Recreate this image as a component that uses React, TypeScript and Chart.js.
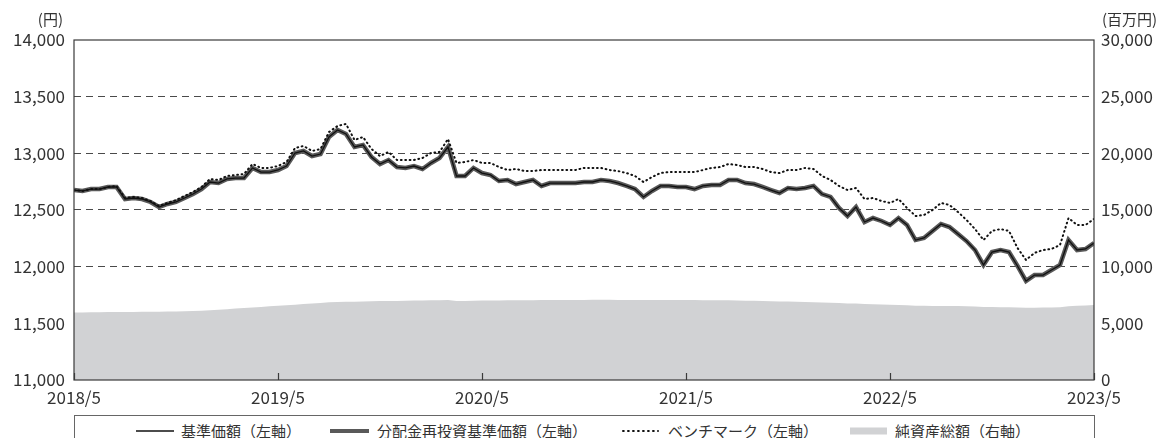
import React, { useEffect, useRef } from "react";
import { Chart, registerables } from "chart.js";

Chart.register(...registerables);

// x axis: semi-monthly steps, 2018/5 .. 2023/5 (24 steps per year)
const xTickLabels = ["2018/5", "2019/5", "2020/5", "2021/5", "2022/5", "2023/5"];
const stepsPerYear = 24;

// 基準価額 (円)
const fundNav = [
  12676, 12668, 12685, 12685, 12703, 12703, 12597, 12606, 12597, 12571,
  12526, 12553, 12571, 12606, 12641, 12685, 12747, 12738, 12774, 12782,
  12782, 12871, 12835, 12835, 12853, 12888, 13003, 13021, 12976, 12994,
  13144, 13206, 13171, 13056, 13074, 12968, 12906, 12941, 12879, 12871,
  12888, 12862, 12915, 12959, 13056, 12800, 12800, 12871, 12826, 12809,
  12756, 12765, 12729, 12747, 12765, 12712, 12738, 12738, 12738, 12738,
  12747, 12747, 12765, 12756, 12738, 12712, 12685, 12615, 12668, 12712,
  12712, 12703, 12703, 12685, 12712, 12721, 12721, 12765, 12765, 12738,
  12729, 12703, 12676, 12650, 12694, 12685, 12694, 12712, 12641, 12615,
  12518, 12447, 12526, 12394, 12429, 12403, 12368, 12429, 12368, 12235,
  12253, 12315, 12376, 12350, 12288, 12226, 12147, 12015, 12129, 12147,
  12129, 12006, 11874, 11926, 11926, 11971, 12015, 12235, 12147, 12156,
  12209,
];

// 分配金再投資基準価額 (円) — identical to 基準価額 in the picture
const reinvestNav = [
  12676, 12668, 12685, 12685, 12703, 12703, 12597, 12606, 12597, 12571,
  12526, 12553, 12571, 12606, 12641, 12685, 12747, 12738, 12774, 12782,
  12782, 12871, 12835, 12835, 12853, 12888, 13003, 13021, 12976, 12994,
  13144, 13206, 13171, 13056, 13074, 12968, 12906, 12941, 12879, 12871,
  12888, 12862, 12915, 12959, 13056, 12800, 12800, 12871, 12826, 12809,
  12756, 12765, 12729, 12747, 12765, 12712, 12738, 12738, 12738, 12738,
  12747, 12747, 12765, 12756, 12738, 12712, 12685, 12615, 12668, 12712,
  12712, 12703, 12703, 12685, 12712, 12721, 12721, 12765, 12765, 12738,
  12729, 12703, 12676, 12650, 12694, 12685, 12694, 12712, 12641, 12615,
  12518, 12447, 12526, 12394, 12429, 12403, 12368, 12429, 12368, 12235,
  12253, 12315, 12376, 12350, 12288, 12226, 12147, 12015, 12129, 12147,
  12129, 12006, 11874, 11926, 11926, 11971, 12015, 12235, 12147, 12156,
  12209,
];

// ベンチマーク (円)
const benchmark = [
  12676, 12668, 12685, 12685, 12703, 12712, 12606, 12615, 12606, 12579,
  12535, 12562, 12588, 12624, 12659, 12703, 12774, 12765, 12800, 12809,
  12818, 12906, 12871, 12871, 12888, 12924, 13047, 13065, 13021, 13038,
  13188, 13241, 13259, 13118, 13144, 13038, 12976, 13012, 12941, 12941,
  12941, 12959, 13003, 13012, 13126, 12915, 12924, 12941, 12915, 12915,
  12879, 12853, 12862, 12844, 12844, 12853, 12853, 12853, 12853, 12853,
  12871, 12871, 12871, 12853, 12844, 12826, 12800, 12747, 12791, 12826,
  12835, 12835, 12835, 12835, 12853, 12871, 12879, 12906, 12897, 12879,
  12879, 12862, 12835, 12826, 12853, 12853, 12871, 12862, 12800, 12765,
  12712, 12676, 12694, 12597, 12606, 12579, 12562, 12597, 12518, 12447,
  12456, 12500, 12562, 12544, 12482, 12412, 12332, 12235, 12315, 12332,
  12315, 12165, 12059, 12121, 12147, 12156, 12191, 12429, 12368, 12368,
  12421,
];

// 純資産総額 (百万円)
const netAssets = [
  5950, 5960, 5970, 5980, 5990, 6000, 6000, 6010, 6020, 6020,
  6030, 6040, 6050, 6060, 6080, 6100, 6150, 6200, 6250, 6300,
  6350, 6400, 6450, 6500, 6550, 6600, 6650, 6700, 6750, 6800,
  6850, 6880, 6900, 6900, 6920, 6950, 6960, 6970, 6980, 7000,
  7010, 7020, 7030, 7040, 7060, 6980, 6970, 7000, 7010, 7020,
  7020, 7030, 7030, 7040, 7040, 7050, 7050, 7050, 7060, 7060,
  7060, 7070, 7070, 7070, 7060, 7060, 7060, 7050, 7060, 7060,
  7060, 7050, 7050, 7050, 7040, 7040, 7030, 7030, 7020, 7000,
  6990, 6970, 6950, 6930, 6920, 6900, 6880, 6860, 6840, 6820,
  6790, 6760, 6740, 6700, 6680, 6660, 6640, 6620, 6600, 6560,
  6550, 6540, 6540, 6530, 6520, 6500, 6480, 6450, 6440, 6430,
  6420, 6400, 6380, 6380, 6390, 6400, 6420, 6500, 6550, 6580,
  6620,
];

const FONT = "'Noto Sans CJK JP', 'Noto Sans', sans-serif";
const TEXT = "#333333";

const toPoints = (arr: number[]) => arr.map((v, i) => ({ x: i, y: v }));
const fmt = (v: number) => Number(v).toLocaleString("en-US");

const framePlugin = {
  id: "frameAndTitles",
  afterDatasetsDraw(chart: any) {
    const { ctx, chartArea: a, scales } = chart;
    ctx.save();
    ctx.strokeStyle = "#3a3a3a";
    ctx.lineWidth = 1.2;
    ctx.setLineDash([]);
    ctx.strokeRect(a.left, a.top, a.right - a.left, a.bottom - a.top);
    const xs = scales.x;
    xs.ticks.forEach((t: any) => {
      const px = Math.round(xs.getPixelForValue(t.value)) + 0.5;
      ctx.beginPath();
      ctx.moveTo(px, a.bottom);
      ctx.lineTo(px, a.bottom - 7);
      ctx.stroke();
    });
    ctx.font = `15px ${FONT}`;
    ctx.fillStyle = TEXT;
    ctx.textBaseline = "middle";
    ctx.textAlign = "right";
    ctx.fillText("(円)", a.left - 11, 19);
    ctx.textAlign = "left";
    ctx.fillText("(百万円)", a.right + 8, 19);
    ctx.restore();
  },
};

function Legend() {
  const txt: React.CSSProperties = {
    position: "absolute",
    top: 14,
    transform: "translateY(-50%)",
    fontSize: 15,
    lineHeight: "1",
    color: TEXT,
    fontFamily: FONT,
    whiteSpace: "nowrap",
  };
  const sym = (left: number): React.CSSProperties => ({
    position: "absolute",
    left,
    top: 15,
    transform: "translateY(-50%)",
    display: "block",
  });
  return (
    <div
      style={{
        position: "absolute",
        left: 74,
        top: 415,
        width: 1021,
        height: 40,
        border: "1px solid #666",
        borderBottom: "none",
        boxSizing: "border-box",
        background: "#fff",
      }}
    >
      <svg style={sym(60)} width={40} height={8}>
        <line x1={1} y1={4} x2={39} y2={4} stroke="#111" strokeWidth={1.4} />
      </svg>
      <span style={{ ...txt, left: 106 }}>基準価額（左軸）</span>
      <svg style={sym(254)} width={41} height={8}>
        <line x1={1} y1={4} x2={40} y2={4} stroke="#595959" strokeWidth={4} />
      </svg>
      <span style={{ ...txt, left: 302 }}>分配金再投資基準価額（左軸）</span>
      <svg style={sym(546)} width={38} height={8}>
        <line x1={2} y1={4} x2={37} y2={4} stroke="#111" strokeWidth={2} strokeDasharray="0.8 4.2" strokeLinecap="round" />
      </svg>
      <span style={{ ...txt, left: 593 }}>ベンチマーク（左軸）</span>
      <div style={{ ...sym(775), width: 37, height: 7, background: "#d1d2d4" }} />
      <span style={{ ...txt, left: 820 }}>純資産総額（右軸）</span>
    </div>
  );
}

export default function App() {
  const ref = useRef<HTMLCanvasElement | null>(null);

  useEffect(() => {
    if (!ref.current) return;
    const chart = new Chart(ref.current, {
      type: "line",
      data: {
        datasets: [
          {
            label: "ベンチマーク（左軸）",
            data: toPoints(benchmark),
            yAxisID: "y",
            borderColor: "#111",
            borderWidth: 2,
            borderDash: [0.8, 3.6],
            borderCapStyle: "round",
            pointRadius: 0,
            fill: false,
            tension: 0,
            order: 1,
          },
          {
            label: "基準価額（左軸）",
            data: toPoints(fundNav),
            yAxisID: "y",
            borderColor: "#111",
            borderWidth: 1.3,
            pointRadius: 0,
            fill: false,
            tension: 0,
            order: 2,
          },
          {
            label: "分配金再投資基準価額（左軸）",
            data: toPoints(reinvestNav),
            yAxisID: "y",
            borderColor: "#595959",
            borderWidth: 4.5,
            pointRadius: 0,
            fill: false,
            tension: 0,
            order: 3,
          },
          {
            label: "純資産総額（右軸）",
            data: toPoints(netAssets),
            yAxisID: "y1",
            borderWidth: 0,
            borderColor: "rgba(0,0,0,0)",
            backgroundColor: "#d1d2d4",
            pointRadius: 0,
            fill: "origin",
            tension: 0,
            order: 4,
          },
        ],
      },
      options: {
        animation: false,
        responsive: false,
        events: [],
        layout: { padding: { top: 40, left: 0, right: 0, bottom: 0 } },
        plugins: {
          legend: { display: false },
          tooltip: { enabled: false },
        },
        scales: {
          x: {
            type: "linear",
            min: 0,
            max: stepsPerYear * (xTickLabels.length - 1),
            grid: { display: false, drawTicks: false },
            border: { display: false },
            ticks: {
              stepSize: stepsPerYear,
              autoSkip: false,
              maxRotation: 0,
              padding: 7,
              color: TEXT,
              font: { family: FONT, size: 17 },
              callback: (v: any) => xTickLabels[Math.round(Number(v) / stepsPerYear)] ?? "",
            },
            afterFit: (s: any) => {
              s.height = 32;
            },
          },
          y: {
            position: "left",
            min: 11000,
            max: 14000,
            grid: {
              drawTicks: false,
              lineWidth: 1.1,
              color: (c: any) =>
                c.tick && (c.tick.value === 11000 || c.tick.value === 14000) ? "rgba(0,0,0,0)" : "#4a4a4a",
            },
            border: { display: false, dash: [7, 5] },
            ticks: {
              stepSize: 500,
              padding: 9,
              color: TEXT,
              font: { family: FONT, size: 17 },
              callback: (v: any) => fmt(v),
            },
            afterFit: (s: any) => {
              s.width = 74;
            },
          },
          y1: {
            position: "right",
            min: 0,
            max: 30000,
            grid: { display: false, drawTicks: false },
            border: { display: false },
            ticks: {
              stepSize: 5000,
              padding: 7,
              color: TEXT,
              font: { family: FONT, size: 17 },
              callback: (v: any) => fmt(v),
            },
            afterFit: (s: any) => {
              s.width = 72;
            },
          },
        },
      },
      plugins: [framePlugin],
    } as any);
    return () => chart.destroy();
  }, []);

  return (
    <div
      style={{
        position: "absolute",
        left: 0,
        top: 0,
        width: 1166,
        height: 438,
        overflow: "hidden",
        background: "#fff",
      }}
    >
      <canvas ref={ref} width={1166} height={412} style={{ display: "block" }} />
      <Legend />
    </div>
  );
}
